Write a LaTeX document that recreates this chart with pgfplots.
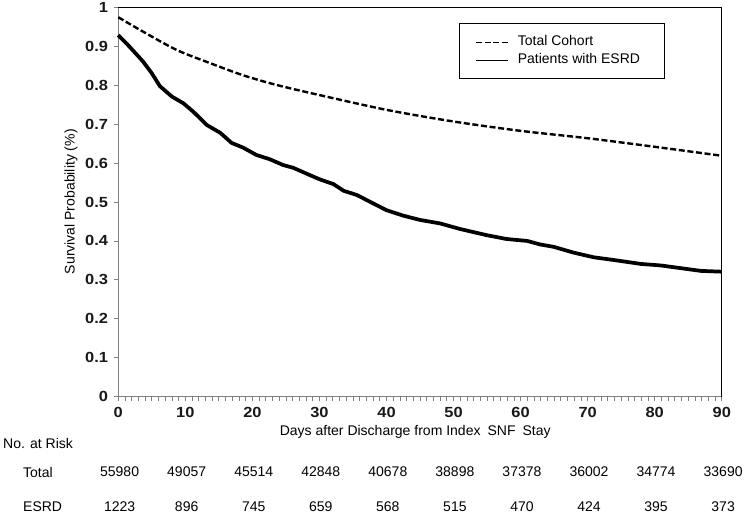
\documentclass[border=0pt]{standalone}
\usepackage{fontspec}
\setmainfont{Liberation Sans}
\usepackage{pgfplots}
\pgfplotsset{compat=1.18}
\begin{document}
\fontsize{10.5}{12.6}\selectfont
\begin{tikzpicture}
\useasboundingbox (-88.7pt,-89.6pt) rectangle (471.5pt,297.4pt);
\begin{axis}[
  at={(0,0)}, anchor=south west,
  scale only axis, width=452.6pt, height=291.75pt,
  xmin=0, xmax=90, ymin=0, ymax=1,
  axis lines=left,
  axis line style={-, draw=black!50, line width=0.75pt},
  tick align=outside,
  tick style={draw=black!50, line width=0.6pt},
  major tick length=3.5pt, minor tick length=3pt,
  xtick={0,10,20,30,40,50,60,70,80,90},
  minor x tick num=9,
  ytick={0,0.1,0.2,0.3,0.4,0.5,0.6,0.7,0.8,0.9,1},
  /pgf/number format/assume math mode=true,
  tick label style={font=\fontsize{11}{12}\selectfont\bfseries, text=black!90, xscale=1.12},
  xticklabel style={yshift=-1pt},
  xlabel={Days after Discharge from Index\hspace{0.5em}SNF\hspace{0.5em}Stay},
  ylabel={Survival Probability (\%)},
  label style={font=\fontsize{10.5}{12}\selectfont},
  xlabel style={at={(axis description cs:0.492,-0.092)}, anchor=center},
  ylabel style={at={(axis description cs:-0.0784,0.501)}, anchor=center},
  clip=false,
  legend image code/.code={\draw[#1, line width=1pt] (0pt,0pt) -- (24pt,0pt);},
  legend cell align=left,
  legend style={at={(rel axis cs:0.5645,0.960)}, anchor=north west,
    draw=black, line width=0.8pt, inner xsep=12pt, inner ysep=9pt,
    column sep=6.75pt, row sep=3.5pt,
    nodes={inner sep=0pt, text height=7.5pt, text depth=2.5pt},
    font=\fontsize{10.5}{12}\selectfont},
]
\addplot[black, line width=1.8pt, dash pattern=on 4.5pt off 2pt, smooth] coordinates {
(0,0.975)(3.7,0.938)(8.7,0.891)(13.7,0.857)(18.6,0.826)(23.6,0.801)(30,0.775)
(40,0.737)(50,0.707)(60,0.683)(70,0.664)(80,0.642)(90,0.619)};
\addlegendentry{\makebox[98pt][l]{Total Cohort}}
\addplot[black, line width=2.8pt, line join=round] coordinates {
(0,0.929)(1.7,0.899)(3.7,0.861)(5,0.831)(6.2,0.798)(8,0.771)(9.7,0.754)(11.2,0.732)
(13.2,0.698)(15.2,0.678)(16.9,0.652)(18.6,0.640)(20.6,0.621)(22.6,0.610)(24.6,0.595)
(26.1,0.588)(28.6,0.569)(30.1,0.558)(32.1,0.546)(33.6,0.529)(35.6,0.518)(37.5,0.501)
(40,0.479)(42.5,0.465)(45,0.454)(48,0.445)(50.9,0.431)(54.9,0.415)(57.9,0.405)
(61,0.400)(62.9,0.391)(64.9,0.385)(67.9,0.370)(70.9,0.358)(73.9,0.351)(77.9,0.341)
(80.9,0.337)(83.9,0.330)(86.9,0.323)(90,0.321)};
\addlegendentry{\makebox[98pt][l]{Patients with ESRD}}
\end{axis}
\draw[black, line width=1pt] (0,291.75pt) -- (452.6pt,291.75pt) -- (452.6pt,0);
\node[anchor=west, inner sep=0pt] at (-86.5pt,-34.9pt) {No. at Risk};
\node[anchor=west, inner sep=0pt] at (-71.5pt,-56.6pt) {Total};
\node[anchor=west, inner sep=0pt] at (-71.5pt,-82.9pt) {ESRD};
\foreach \x/\a/\b in {0/55980/1223, 50.29/49057/896, 100.58/45514/745, 150.87/42848/659,
  201.16/40678/568, 251.44/38898/515, 301.73/37378/470, 352.02/36002/424,
  402.31/34774/395, 452.6/33690/373}{
  \node[inner sep=0pt] at (\x pt+1pt,-56.6pt) {\a};
  \node[inner sep=0pt] at (\x pt+1pt,-82.9pt) {\b};
}
\end{tikzpicture}
\end{document}
